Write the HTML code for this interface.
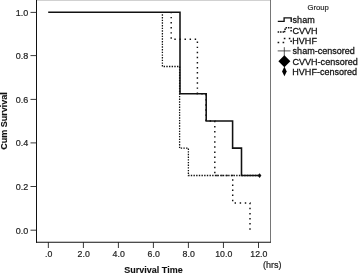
<!DOCTYPE html>
<html><head><meta charset="utf-8">
<style>
html,body{margin:0;padding:0;background:#fff;}
svg{display:block;font-family:"Liberation Sans",Arial,sans-serif;}
</style></head><body>
<svg width="358" height="274" viewBox="0 0 358 274">
<rect width="358" height="274" fill="#fff"/>
<!-- frame -->
<line x1="36" y1="0.3" x2="271" y2="0.3" stroke="#b8b8b8" stroke-width="0.8"/>
<line x1="270.5" y1="0" x2="270.5" y2="242" stroke="#666" stroke-width="0.9"/>
<line x1="36.5" y1="0" x2="36.5" y2="242.8" stroke="#111" stroke-width="1"/>
<line x1="36" y1="242.2" x2="271" y2="242.2" stroke="#111" stroke-width="1.1"/>
<!-- ticks -->
<g stroke="#222" stroke-width="0.9">
<line x1="30.5" y1="12.4" x2="36.5" y2="12.4"/>
<line x1="30.5" y1="55.6" x2="36.5" y2="55.6"/>
<line x1="30.5" y1="99.4" x2="36.5" y2="99.4"/>
<line x1="30.5" y1="142.9" x2="36.5" y2="142.9"/>
<line x1="30.5" y1="186.5" x2="36.5" y2="186.5"/>
<line x1="30.5" y1="230.2" x2="36.5" y2="230.2"/>
<line x1="48.35" y1="242" x2="48.35" y2="248"/>
<line x1="83.4" y1="242" x2="83.4" y2="248"/>
<line x1="118.4" y1="242" x2="118.4" y2="248"/>
<line x1="153.4" y1="242" x2="153.4" y2="248"/>
<line x1="188.4" y1="242" x2="188.4" y2="248"/>
<line x1="223.45" y1="242" x2="223.45" y2="248"/>
<line x1="258.5" y1="242" x2="258.5" y2="248"/>
</g>
<text transform="translate(28.3,15.7) scale(1,1.1)" font-size="9" text-anchor="end" fill="#222" stroke="#222" stroke-width="0.2">1.0</text>
<text transform="translate(28.3,58.9) scale(1,1.1)" font-size="9" text-anchor="end" fill="#222" stroke="#222" stroke-width="0.2">0.8</text>
<text transform="translate(28.3,102.7) scale(1,1.1)" font-size="9" text-anchor="end" fill="#222" stroke="#222" stroke-width="0.2">0.6</text>
<text transform="translate(28.3,146.2) scale(1,1.1)" font-size="9" text-anchor="end" fill="#222" stroke="#222" stroke-width="0.2">0.4</text>
<text transform="translate(28.3,189.8) scale(1,1.1)" font-size="9" text-anchor="end" fill="#222" stroke="#222" stroke-width="0.2">0.2</text>
<text transform="translate(28.3,233.5) scale(1,1.1)" font-size="9" text-anchor="end" fill="#222" stroke="#222" stroke-width="0.2">0.0</text>
<text transform="translate(48.65,257.4) scale(0.975,1.1)" font-size="9" text-anchor="middle" fill="#222" stroke="#222" stroke-width="0.2">.0</text>
<text transform="translate(83.7,257.4) scale(0.975,1.1)" font-size="9" text-anchor="middle" fill="#222" stroke="#222" stroke-width="0.2">2.0</text>
<text transform="translate(118.7,257.4) scale(0.975,1.1)" font-size="9" text-anchor="middle" fill="#222" stroke="#222" stroke-width="0.2">4.0</text>
<text transform="translate(153.70000000000002,257.4) scale(0.975,1.1)" font-size="9" text-anchor="middle" fill="#222" stroke="#222" stroke-width="0.2">6.0</text>
<text transform="translate(188.70000000000002,257.4) scale(0.975,1.1)" font-size="9" text-anchor="middle" fill="#222" stroke="#222" stroke-width="0.2">8.0</text>
<text transform="translate(223.75,257.4) scale(0.975,1.1)" font-size="9" text-anchor="middle" fill="#222" stroke="#222" stroke-width="0.2">10.0</text>
<text transform="translate(258.8,257.4) scale(0.975,1.1)" font-size="9" text-anchor="middle" fill="#222" stroke="#222" stroke-width="0.2">12.0</text>
<text transform="translate(153.5,273.3) scale(1,1.1)" font-size="9" text-anchor="middle" font-weight="bold" fill="#111" stroke="#111" stroke-width="0.1">Survival Time</text>
<text transform="translate(272.2,268.2) scale(1,1.1)" font-size="9" text-anchor="middle" fill="#222" stroke="#222" stroke-width="0.2">(hrs)</text>
<text transform="translate(6.9,121) rotate(-90) scale(1,1.1)" font-size="9" text-anchor="middle" font-weight="bold" fill="#111" stroke="#111" stroke-width="0.1">Cum Survival</text>
<!-- curves -->
<g fill="none" stroke="#111">
<path d="M162.4 12V66.5H179.6V148.2H188.4V175.5H259" stroke-width="1.3" stroke-dasharray="1.4 1.27" stroke-dashoffset="0.34"/>
<path d="M171.2 12V39.2H197.4V93.7H206V121H214.8V175.5H232.7V202.9H250V230" stroke-width="1.45" stroke-dasharray="1.45 3.64" stroke-dashoffset="0.21"/>
<path d="M48.2 12.2H180V93.7H206.2V121H232.6V148.1H241.5V175.5H259" stroke-width="1.55"/>
</g>
<path d="M259.6 173.3L261.4 175.6L259.6 177.9L257.8 175.6Z" fill="#111"/>
<!-- legend -->
<text transform="translate(307.5,10.1) scale(1,1.02)" font-size="7.7" fill="#2a2a2a" stroke="#2a2a2a" stroke-width="0.2">Group</text>
<text transform="translate(292.6,22.9) scale(1,1.1)" font-size="9.05" fill="#111" stroke="#111" stroke-width="0.25">sham</text>
<text transform="translate(292.5,33.7) scale(1,1.1)" font-size="9.05" fill="#111" stroke="#111" stroke-width="0.25">CVVH</text>
<text transform="translate(292.3,43.7) scale(1,1.1)" font-size="9.05" fill="#111" stroke="#111" stroke-width="0.25">HVHF</text>
<text transform="translate(292.6,54.2) scale(1,1.1)" font-size="9.05" fill="#111" stroke="#111" stroke-width="0.25">sham-censored</text>
<text transform="translate(292.5,64.6) scale(1,1.1)" font-size="9.05" fill="#111" stroke="#111" stroke-width="0.25">CVVH-censored</text>
<text transform="translate(292.3,74.8) scale(1,1.1)" font-size="9.05" fill="#111" stroke="#111" stroke-width="0.25">HVHF-censored</text>
<g fill="none" stroke="#111">
<path d="M277.8 21.4H284.1V17.9H291.2V22" stroke-width="1.35"/>
<path d="M278.4 31.9h0.01M280.8 31.9h0.01M283.3 31.9h0.01M284.6 31.6h0.01M285.1 29.3h0.01M286.3 27.8h0.01M288.7 27.8h0.01M291.1 27.8h0.01M291.1 30.8h0.01" stroke-width="1.5" stroke-linecap="square"/>
<path d="M278.4 42.5h0.01M283.4 42.5h0.01M284.6 38.5h0.01M289.6 38.5h0.01M291.1 41.3h0.01" stroke-width="1.6" stroke-linecap="square"/>
<path d="M277.7 50.9H290.6M284.3 47.2V56" stroke-width="0.75" stroke="#222"/>
</g>
<path d="M284.4 55.2L290.4 61.2L284.4 67.2L278.4 61.2Z" fill="#000"/>
<path d="M284.4 66.6L286.7 71.4L284.4 76.2L282.1 71.4Z" fill="#000"/>
</svg>
</body></html>
